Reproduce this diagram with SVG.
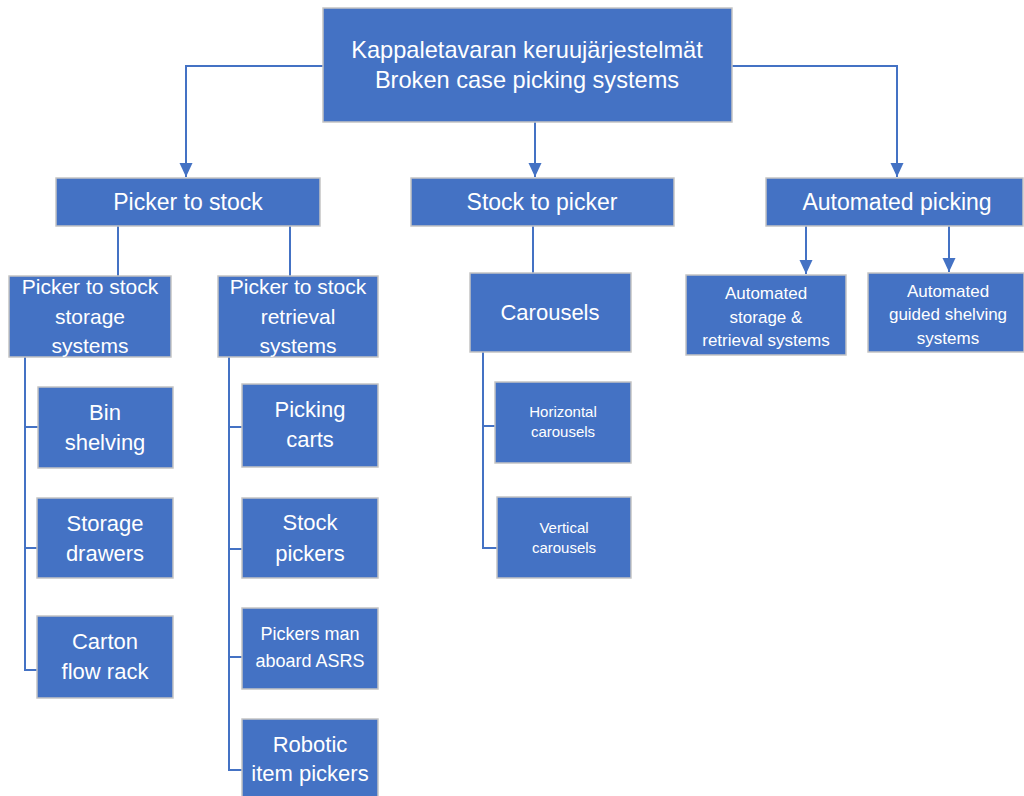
<svg xmlns="http://www.w3.org/2000/svg" width="1024" height="796" viewBox="0 0 1024 796">
<defs>
<style>
.b{fill:#4472C4;stroke:#c4c4c4;stroke-width:1.5}
.t{fill:#ffffff;font-family:"Liberation Sans",Arial,sans-serif;text-anchor:middle}
.c{fill:none;stroke:#4472C4;stroke-width:2}
</style>
<marker id="a" markerUnits="userSpaceOnUse" markerWidth="16" markerHeight="16" viewBox="0 0 16 16" refX="15" refY="8" orient="auto">
<path d="M1,1.5 L15,8 L1,14.5 Z" fill="#4472C4"/>
</marker>
</defs>
<rect width="1024" height="796" fill="#ffffff"/>
<g id="connectors">
<path class="c" d="M323,66 H186 V177" marker-end="url(#a)"/>
<path class="c" d="M732,66 H897 V177" marker-end="url(#a)"/>
<path class="c" d="M535,122 V177" marker-end="url(#a)"/>
<path class="c" d="M118,226 V276"/>
<path class="c" d="M290,226 V276"/>
<path class="c" d="M533,226 V273"/>
<path class="c" d="M806,226 V274" marker-end="url(#a)"/>
<path class="c" d="M949,226 V272" marker-end="url(#a)"/>
<path class="c" d="M25,357 V670 H38 M25,427 H38 M25,548 H38"/>
<path class="c" d="M229,357 V770 H242 M229,427 H242 M229,549 H242 M229,657 H242"/>
<path class="c" d="M483,352 V548 H497 M483,426 H495"/>
</g>
<g id="root">
<rect class="b" x="323" y="8" width="409" height="114"/>
<text class="t" x="527" y="58" font-size="23.6">Kappaletavaran keruujärjestelmät</text>
<text class="t" x="527" y="88" font-size="23.6">Broken case picking systems</text>
</g>
<g id="picker-to-stock">
<rect class="b" x="56" y="178" width="264" height="48"/>
<text class="t" x="188" y="210" font-size="23">Picker to stock</text>
</g>
<g id="stock-to-picker">
<rect class="b" x="411" y="178" width="263" height="48"/>
<text class="t" x="542" y="210" font-size="23">Stock to picker</text>
</g>
<g id="automated-picking">
<rect class="b" x="766" y="178" width="257" height="48"/>
<text class="t" x="897" y="210" font-size="23">Automated picking</text>
</g>
<g id="pts-storage">
<rect class="b" x="9" y="276" width="162" height="81"/>
<text class="t" x="90" y="294" font-size="21">Picker to stock</text>
<text class="t" x="90" y="324" font-size="21">storage</text>
<text class="t" x="90" y="353" font-size="21">systems</text>
</g>
<g id="pts-retrieval">
<rect class="b" x="218" y="276" width="160" height="81"/>
<text class="t" x="298" y="294" font-size="21">Picker to stock</text>
<text class="t" x="298" y="324" font-size="21">retrieval</text>
<text class="t" x="298" y="353" font-size="21">systems</text>
</g>
<g id="carousels">
<rect class="b" x="470" y="273" width="161" height="79"/>
<text class="t" x="550" y="320" font-size="22">Carousels</text>
</g>
<g id="asrs">
<rect class="b" x="686" y="275" width="160" height="80"/>
<text class="t" x="766" y="299" font-size="17">Automated</text>
<text class="t" x="766" y="323" font-size="17">storage &amp;</text>
<text class="t" x="766" y="346" font-size="17">retrieval systems</text>
</g>
<g id="agss">
<rect class="b" x="868" y="273" width="156" height="79"/>
<text class="t" x="948" y="297" font-size="17">Automated</text>
<text class="t" x="948" y="320" font-size="17">guided shelving</text>
<text class="t" x="948" y="344" font-size="17">systems</text>
</g>
<g id="bin-shelving">
<rect class="b" x="38" y="387" width="135" height="81"/>
<text class="t" x="105" y="420" font-size="22">Bin</text>
<text class="t" x="105" y="450" font-size="22">shelving</text>
</g>
<g id="storage-drawers">
<rect class="b" x="37" y="498" width="136" height="80"/>
<text class="t" x="105" y="531" font-size="22">Storage</text>
<text class="t" x="105" y="561" font-size="22">drawers</text>
</g>
<g id="carton-flow-rack">
<rect class="b" x="37" y="616" width="136" height="82"/>
<text class="t" x="105" y="649" font-size="22">Carton</text>
<text class="t" x="105" y="679" font-size="22">flow rack</text>
</g>
<g id="picking-carts">
<rect class="b" x="242" y="384" width="136" height="83"/>
<text class="t" x="310" y="417" font-size="22">Picking</text>
<text class="t" x="310" y="447" font-size="22">carts</text>
</g>
<g id="stock-pickers">
<rect class="b" x="242" y="498" width="136" height="80"/>
<text class="t" x="310" y="530" font-size="22">Stock</text>
<text class="t" x="310" y="561" font-size="22">pickers</text>
</g>
<g id="pickers-man-aboard">
<rect class="b" x="242" y="608" width="136" height="81"/>
<text class="t" x="310" y="640" font-size="18">Pickers man</text>
<text class="t" x="310" y="667" font-size="18">aboard ASRS</text>
</g>
<g id="robotic-item-pickers">
<rect class="b" x="242" y="719" width="136" height="80"/>
<text class="t" x="310" y="752" font-size="22">Robotic</text>
<text class="t" x="310" y="781" font-size="22">item pickers</text>
</g>
<g id="horizontal-carousels">
<rect class="b" x="495" y="382" width="136" height="81"/>
<text class="t" x="563" y="417" font-size="15">Horizontal</text>
<text class="t" x="563" y="437" font-size="15">carousels</text>
</g>
<g id="vertical-carousels">
<rect class="b" x="497" y="497" width="134" height="81"/>
<text class="t" x="564" y="533" font-size="15">Vertical</text>
<text class="t" x="564" y="553" font-size="15">carousels</text>
</g>
</svg>
